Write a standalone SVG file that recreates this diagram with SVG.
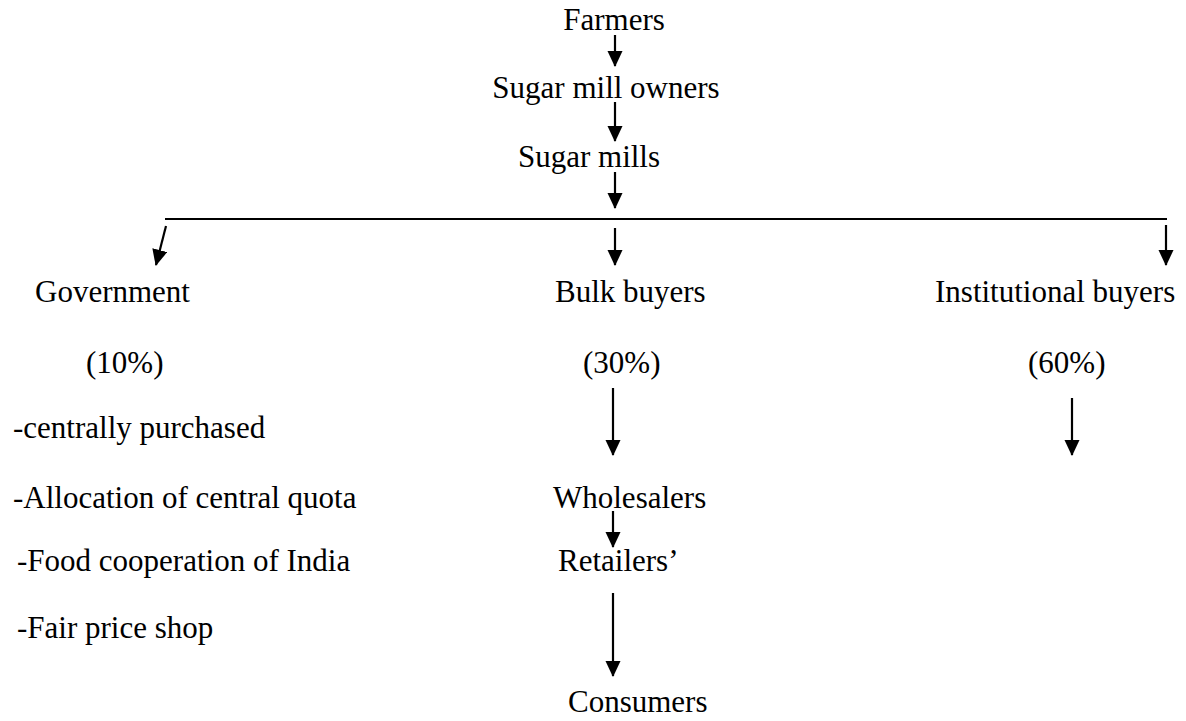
<svg xmlns="http://www.w3.org/2000/svg" width="1186" height="721" viewBox="0 0 1186 721">
<style>
text{font-family:'Liberation Serif',Tinos,'DejaVu Serif',serif;font-size:31px;fill:#000}
.c{text-anchor:middle}
line{stroke:#000;stroke-width:2.2}
</style>
<defs>
<marker id="ah" markerWidth="8" markerHeight="8" refX="7" refY="3.5" orient="auto" markerUnits="strokeWidth">
<path d="M0,0 L7.5,3.5 L0,7 Z" fill="#000"/>
</marker>
</defs>
<rect width="1186" height="721" fill="#fff"/>
<g id="connectors">
<line x1="615" y1="35" x2="615" y2="66" marker-end="url(#ah)"/>
<line x1="615" y1="102" x2="615" y2="141" marker-end="url(#ah)"/>
<line x1="615" y1="172" x2="615" y2="208" marker-end="url(#ah)"/>
<line x1="165" y1="219" x2="1167" y2="219" style="stroke-width:2"/>
<line x1="166" y1="226" x2="156" y2="265" marker-end="url(#ah)"/>
<line x1="615" y1="228" x2="615" y2="265" marker-end="url(#ah)"/>
<line x1="1166" y1="225" x2="1166" y2="265" marker-end="url(#ah)"/>
<line x1="613" y1="388" x2="613" y2="455" marker-end="url(#ah)"/>
<line x1="1072" y1="398" x2="1072" y2="455" marker-end="url(#ah)"/>
<line x1="613" y1="511" x2="613" y2="547" marker-end="url(#ah)"/>
<line x1="613" y1="593" x2="613" y2="676" marker-end="url(#ah)"/>
</g>
<g id="farmers"><text x="614" y="30" class="c">Farmers</text></g>
<g id="sugar-mill-owners"><text x="606" y="98" class="c">Sugar mill owners</text></g>
<g id="sugar-mills"><text x="589" y="167" class="c">Sugar mills</text></g>
<g id="government"><text x="35" y="302">Government</text><text x="86" y="373">(10%)</text>
<text x="13" y="438">-centrally purchased</text>
<text x="13" y="508">-Allocation of central quota</text>
<text x="17" y="571">-Food cooperation of India</text>
<text x="17" y="638">-Fair price shop</text></g>
<g id="bulk-buyers"><text x="555" y="302">Bulk buyers</text><text x="583" y="373">(30%)</text></g>
<g id="institutional-buyers"><text x="935" y="302">Institutional buyers</text><text x="1028" y="373">(60%)</text></g>
<g id="wholesalers"><text x="553" y="508">Wholesalers</text></g>
<g id="retailers"><text x="558" y="571">Retailers’</text></g>
<g id="consumers"><text x="568" y="712">Consumers</text></g>
</svg>
